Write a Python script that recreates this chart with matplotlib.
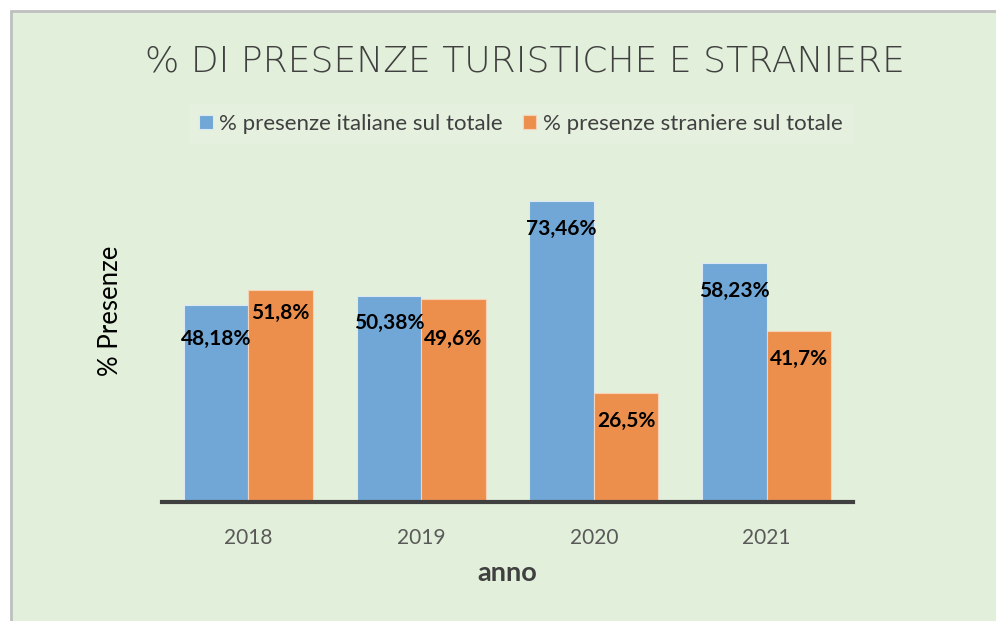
import matplotlib
matplotlib.use("Agg")
import matplotlib.pyplot as plt
from matplotlib.patches import Rectangle
import numpy as np

# ---- data ----
anni = ["2018", "2019", "2020", "2021"]
italiane = [48.18, 50.38, 73.46, 58.23]
straniere = [51.8, 49.6, 26.5, 41.7]
serie_nomi = ["% presenze italiane sul totale", "% presenze straniere sul totale"]
titolo = "% DI PRESENZE TURISTICHE E STRANIERE"

# ---- style ----
BG = "#E2EFDA"
BLUE = "#70A7D6"
ORANGE = "#ED8F4C"
DARK = "#404040"
# vertical nudges (points) of the data labels, as placed in the original
nudge_ita = [-5, 0, 0, 0]
nudge_str = [3, -9, 0, 0]

W, H = 996, 621
fig = plt.figure(figsize=(W / 100, H / 100), dpi=100, facecolor="white")

# chart area background with border at top/left
bg = Rectangle((11 / W, -0.1), 1.2, 1 - 11 / H + 0.1, transform=fig.transFigure,
               facecolor=BG, edgecolor="#BFBFBF", linewidth=2, zorder=-10)
fig.patches.append(bg)

ax_l, ax_r, ax_base = 162, 853, 502
px_per_unit = 301 / 73.46
ymax = 80
ax = fig.add_axes([ax_l / W, 1 - ax_base / H, (ax_r - ax_l) / W, ymax * px_per_unit / H])
ax.set_facecolor("none")
ax.set_zorder(5)

x = np.arange(len(anni))
bw = 0.373
b1 = ax.bar(x - bw / 2, italiane, bw, color=BLUE, edgecolor="#DCE9F5", linewidth=0.8,
            label=serie_nomi[0], zorder=2)
b2 = ax.bar(x + bw / 2, straniere, bw, color=ORANGE, edgecolor="#F6D2B8", linewidth=0.8,
            label=serie_nomi[1], zorder=2)

ax.set_xlim(-0.5, len(anni) - 0.5)
ax.set_ylim(0, ymax)

for cont, vals, nud in ((b1, italiane, nudge_ita), (b2, straniere, nudge_str)):
    for rect, v, n in zip(cont, vals, nud):
        lab = ("%g" % v).replace(".", ",") + "%"
        ax.annotate(lab, (rect.get_x() + rect.get_width() / 2, rect.get_height()),
                    xytext=(0, -20 + n), textcoords="offset points", ha="center", va="center",
                    fontsize=15, fontweight="bold", family="Lato", color="black", zorder=3)

for s in ("top", "right", "left"):
    ax.spines[s].set_visible(False)
ax.spines["bottom"].set_color(DARK)
ax.spines["bottom"].set_linewidth(3)
ax.spines["bottom"].set_zorder(4)
ax.set_yticks([])
ax.set_xticks(x)
ax.set_xticklabels(anni, fontsize=15, family="Lato", color="#595959")
ax.tick_params(axis="x", length=0, pad=19)

ax.set_xlabel("anno", fontsize=19.5, fontweight="bold", family="Lato", color=DARK, labelpad=9)
fig.text(110 / W, 1 - 311 / H, "% Presenze", rotation=90, ha="center", va="center",
         fontsize=18.5, family="Lato", color="black")

fig.text(525 / W, 1 - 61 / H, titolo, ha="center", va="center", fontsize=26,
         family="DejaVu Sans", fontweight="light", color=DARK)

leg = fig.legend(handles=[b1, b2], labels=serie_nomi, loc="center",
                 bbox_to_anchor=(521 / W, 1 - 124 / H), ncol=2, frameon=True,
                 prop={"family": "Lato", "size": 16}, handlelength=0.6, handleheight=0.6,
                 handletextpad=0.3, columnspacing=0.9, borderpad=0.45, borderaxespad=0,
                 fancybox=False)
leg.get_frame().set_facecolor("#E7F1E1")
leg.get_frame().set_edgecolor("none")
for t in leg.get_texts():
    t.set_color(DARK)

fig.savefig("out.png", dpi=100, facecolor="white")
